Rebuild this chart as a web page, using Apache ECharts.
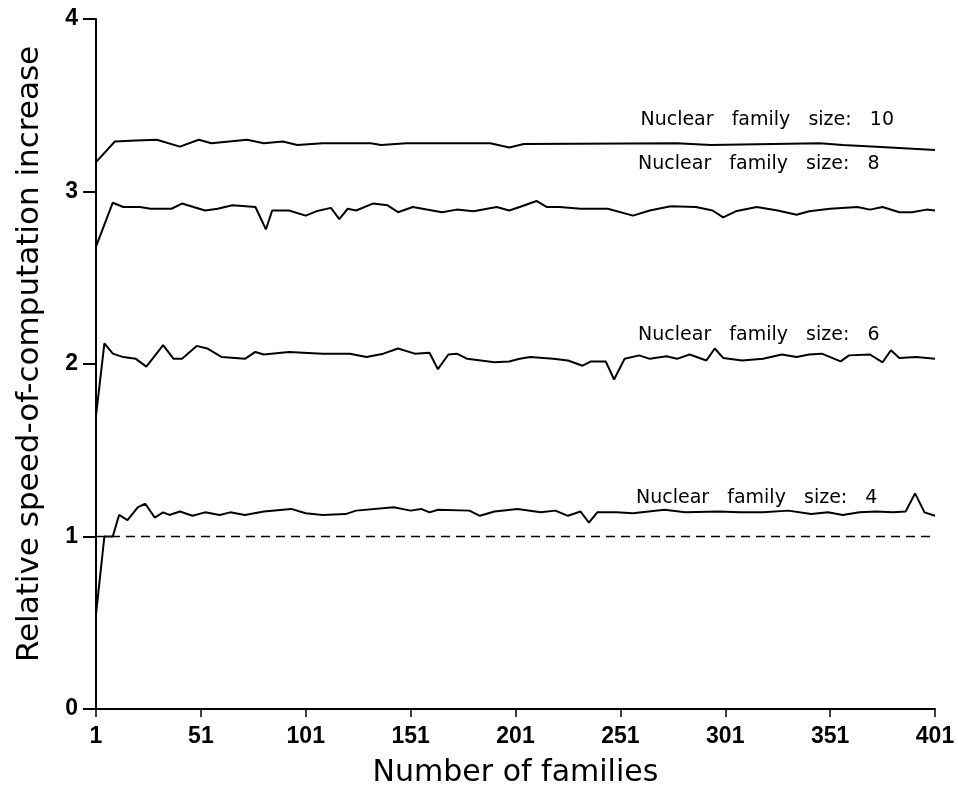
<!DOCTYPE html>
<html>
<head>
<meta charset="utf-8">
<script src="https://cdn.jsdelivr.net/npm/echarts@6/dist/echarts.min.js"></script>
<style>
html,body{margin:0;padding:0;background:#fff;}
#chart{width:958px;height:791px;}
</style>
</head>
<body>
<div id="chart"></div>
<script>
// ---- Data ----
const xTickValues = [1, 51, 101, 151, 201, 251, 301, 351, 401];

const fam10 = [1, 10, 20, 30, 41, 50, 56, 73, 81, 90, 97, 109, 132, 137, 149, 189, 198, 205, 278, 294, 346, 357, 373, 401];
const speed10 = [3.17, 3.29, 3.295, 3.30, 3.26, 3.30, 3.28, 3.30, 3.28, 3.29, 3.27, 3.28, 3.28, 3.27, 3.28, 3.28, 3.255, 3.275, 3.28, 3.27, 3.28, 3.27, 3.26, 3.24];

const fam8 = [1, 9, 14, 22, 27, 37, 42, 53, 59, 66, 77, 82, 85, 93, 101, 106, 113, 117, 121, 125, 133, 140, 145, 152, 166, 173, 181, 192, 198, 203, 211, 216, 222, 232, 245, 257, 265, 275, 287, 295, 300, 306, 316, 326, 335, 341, 351, 364, 370, 376, 384, 390, 397, 401];
const speed8 = [2.68, 2.935, 2.91, 2.91, 2.90, 2.90, 2.93, 2.89, 2.90, 2.92, 2.91, 2.78, 2.89, 2.89, 2.86, 2.885, 2.905, 2.84, 2.90, 2.89, 2.93, 2.92, 2.88, 2.91, 2.88, 2.895, 2.885, 2.91, 2.89, 2.91, 2.945, 2.91, 2.91, 2.90, 2.90, 2.86, 2.89, 2.915, 2.91, 2.89, 2.85, 2.885, 2.91, 2.89, 2.865, 2.885, 2.90, 2.91, 2.895, 2.91, 2.88, 2.88, 2.895, 2.89];

const fam6 = [1, 5, 9, 14, 20, 25, 33, 38, 42, 49, 54, 61, 72, 77, 81, 93, 109, 122, 130, 138, 145, 153, 160, 164, 169, 173, 178, 191, 198, 203, 208, 219, 226, 233, 237, 244, 248, 253, 260, 265, 273, 278, 284, 292, 296, 300, 309, 319, 328, 335, 341, 347, 356, 360, 370, 376, 380, 384, 392, 401];
const speed6 = [1.70, 2.12, 2.06, 2.04, 2.03, 1.985, 2.11, 2.03, 2.03, 2.105, 2.09, 2.04, 2.03, 2.07, 2.055, 2.07, 2.06, 2.06, 2.04, 2.06, 2.09, 2.06, 2.065, 1.97, 2.055, 2.06, 2.03, 2.01, 2.015, 2.03, 2.04, 2.03, 2.02, 1.99, 2.015, 2.015, 1.91, 2.03, 2.05, 2.03, 2.045, 2.03, 2.055, 2.02, 2.09, 2.035, 2.02, 2.03, 2.055, 2.04, 2.055, 2.06, 2.015, 2.05, 2.055, 2.01, 2.08, 2.035, 2.04, 2.03];

const fam4 = [1, 5, 9, 12, 16, 21, 24.5, 29, 33, 36, 41, 47, 53, 60, 65, 72, 81, 94, 101, 109, 120, 125, 143, 151, 156, 160, 164, 179, 184, 191, 202, 213, 220, 226, 232, 236, 240, 249, 257, 272, 282, 298, 308, 319, 331, 342, 350, 357, 365, 373, 381, 387, 391.5, 396, 401];
const speed4 = [0.55, 1.0, 1.0, 1.125, 1.095, 1.17, 1.19, 1.11, 1.14, 1.125, 1.145, 1.12, 1.14, 1.125, 1.14, 1.125, 1.145, 1.16, 1.135, 1.125, 1.13, 1.15, 1.17, 1.15, 1.16, 1.14, 1.155, 1.15, 1.12, 1.145, 1.16, 1.14, 1.15, 1.12, 1.145, 1.08, 1.14, 1.14, 1.135, 1.155, 1.14, 1.145, 1.14, 1.14, 1.15, 1.13, 1.14, 1.125, 1.14, 1.145, 1.14, 1.145, 1.25, 1.14, 1.12];

const famBase = [1, 401];
const speedBase = [1, 1];

const seriesNames = ['Nuclear   family   size:   10', 'Nuclear   family   size:   8', 'Nuclear   family   size:   6', 'Nuclear   family   size:   4'];
const labelFam = [321, 317, 317, 316];
const labelSpeed = [3.417, 3.157, 2.17, 1.222];

// ---- Build chart ----
function pairs(xs, ys) { return xs.map((x, i) => [x, ys[i]]); }

const lineSets = [[fam10, speed10], [fam8, speed8], [fam6, speed6], [fam4, speed4]];
const tickFont = { fontFamily: 'Liberation Sans', fontWeight: 'bold', fontSize: 23, color: '#000' };

const series = lineSets.map((s, i) => ({
  name: seriesNames[i],
  type: 'line',
  data: pairs(s[0], s[1]),
  symbol: 'none',
  smooth: false,
  lineStyle: { color: '#000', width: 2 },
  z: 3,
  markPoint: {
    symbol: 'rect',
    symbolSize: 1,
    itemStyle: { color: 'rgba(0,0,0,0)' },
    label: {
      show: true, position: 'inside', formatter: seriesNames[i],
      fontFamily: 'DejaVu Sans', fontSize: 19, color: '#000'
    },
    data: [{ coord: [labelFam[i], labelSpeed[i]] }]
  }
}));

series.push({
  type: 'line',
  data: pairs(famBase, speedBase),
  symbol: 'none',
  lineStyle: { color: '#000', width: 1.6, type: [9, 6] },
  z: 2
});

const chart = echarts.init(document.getElementById('chart'), null, { renderer: 'canvas' });
chart.setOption({
  animation: false,
  backgroundColor: '#fff',
  grid: { left: 96, right: 23, top: 19, bottom: 82, containLabel: false, outerBoundsMode: 'none' },
  graphic: [{
    type: 'text',
    x: 30, y: 354,
    rotation: Math.PI / 2,
    style: {
      text: 'Relative speed-of-computation increase',
      fontFamily: 'DejaVu Sans', fontSize: 31, fill: '#000',
      align: 'center', verticalAlign: 'middle'
    }
  }],
  xAxis: {
    type: 'value', min: 1, max: 401,
    name: 'Number of families', nameLocation: 'middle', nameGap: 49,
    nameTextStyle: { fontFamily: 'DejaVu Sans', fontSize: 30, color: '#000' },
    axisLine: { show: true, onZero: false, lineStyle: { color: '#000', width: 2 } },
    axisTick: { show: true, customValues: xTickValues, length: 8, inside: false, lineStyle: { color: '#000', width: 1.5 } },
    axisLabel: Object.assign({ customValues: xTickValues, margin: 16 }, tickFont),
    splitLine: { show: false }
  },
  yAxis: {
    type: 'value', min: 0, max: 4, interval: 1,
    axisLine: { show: true, onZero: false, lineStyle: { color: '#000', width: 2 } },
    axisTick: { show: true, length: 13, inside: false, lineStyle: { color: '#000', width: 2 } },
    axisLabel: Object.assign({ margin: 18 }, tickFont),
    splitLine: { show: false }
  },
  series: series
});
</script>
</body>
</html>
